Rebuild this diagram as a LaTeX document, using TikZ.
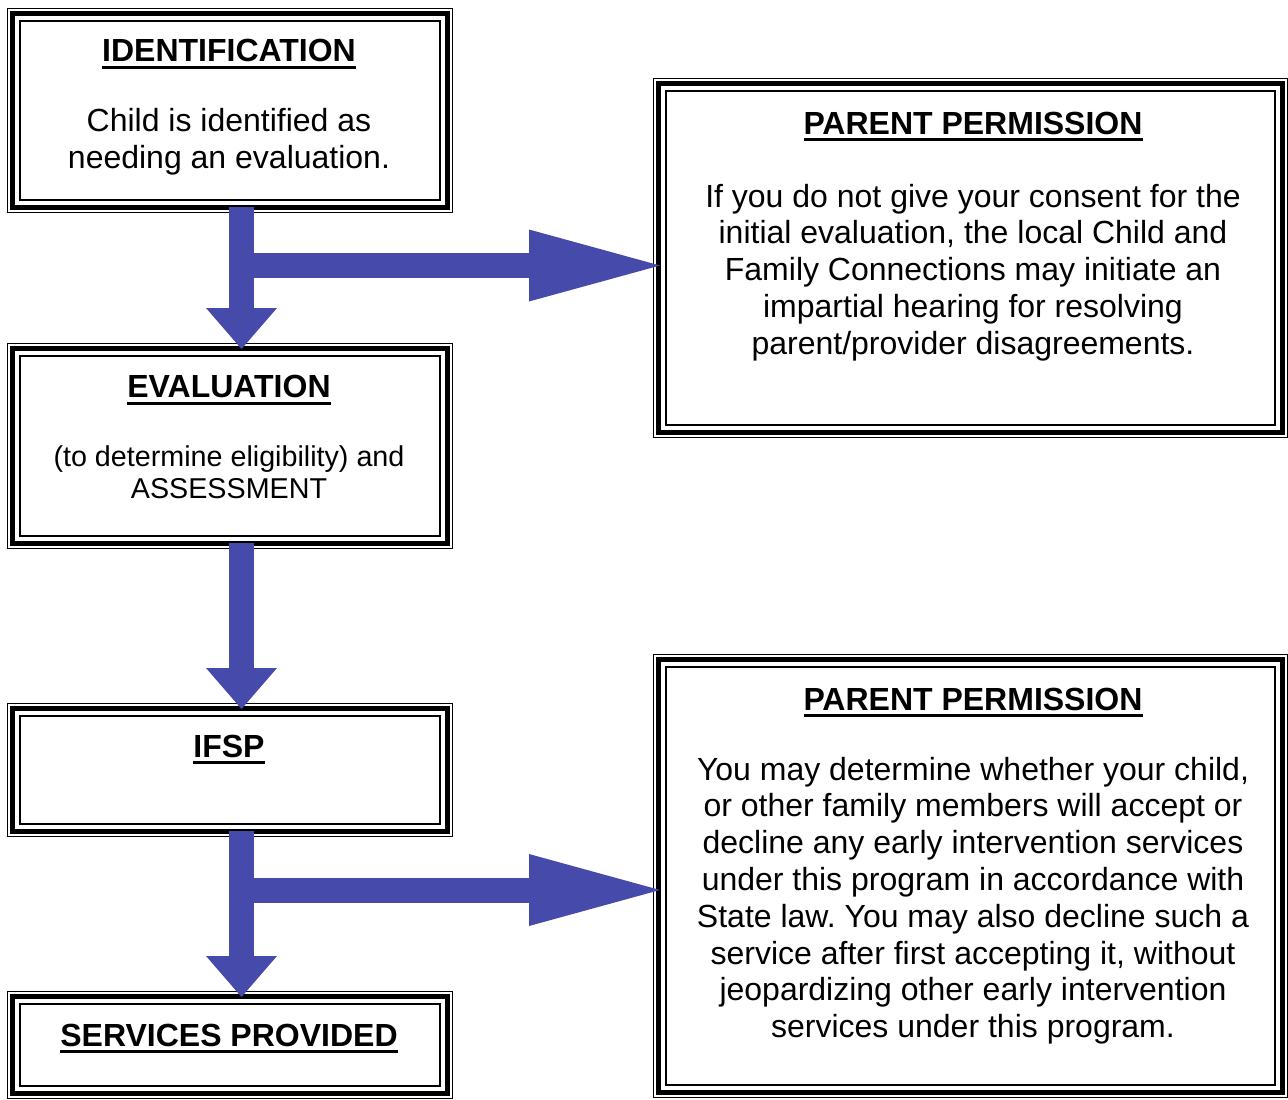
\documentclass[tikz,border=0pt]{standalone}
\usepackage{fontspec}
\setmainfont{Liberation Sans}
\frenchspacing
\usetikzlibrary{arrows.meta,positioning,calc}
\definecolor{kek}{RGB}{70,74,170}
\newcommand\alahuz[1]{\setbox0=\hbox{#1}\rlap{\rule[-7.3pt]{\wd0}{3.3pt}}\box0}
\tikzset{
  keret/.style={draw,line width=1.5pt,inner sep=0pt,outer sep=0pt,minimum width=445pt},
  cim/.style={font=\fontsize{32}{37}\selectfont\bfseries,inner sep=0pt,anchor=base},
  szov/.style={font=\fontsize{32}{36.8}\selectfont,align=center,inner sep=0pt,anchor=base},
  kisszov/.style={font=\fontsize{28.7}{32}\selectfont,align=center,inner sep=0pt,anchor=base},
  blokk/.style={draw=kek,line width=25pt,-{Triangle[length=41pt,width=71pt,line width=0pt]}},
  blokkh/.style={draw=kek,line width=25pt,-{Triangle[length=131pt,width=72pt,line width=0pt]}},
}

\begin{document}
\begin{tikzpicture}[x=1pt,y=-1pt]
  \useasboundingbox (0,0) rectangle (1288,1100);
  \node[keret,minimum height=204pt] (ident) at (230,110.5) {};
  \node[keret,minimum height=205pt] (eval) at (230,446) {};
  \node[keret,minimum height=133pt] (ifsp) at (230,770) {};
  \node[keret,minimum height=107pt] (serv) at (230,1045) {};
  \node[keret,minimum width=634pt,minimum height=359pt] (perm1) at (970.5,258) {};
  \node[keret,minimum width=634pt,minimum height=443pt] (perm2) at (970.5,876) {};
  \foreach \n in {ident,eval,ifsp,serv,perm1,perm2}{
    \draw[line width=5.5pt] ($(\n.north west)+(5,5)$) rectangle ($(\n.south east)+(-5,-5)$);
    \draw[line width=2.5pt] ($(\n.north west)+(12.5,12.5)$) rectangle ($(\n.south east)+(-12.5,-12.5)$);
  }

  \node[cim] (identc) at ($(ident.north)+(-1,53.2)$) {\alahuz{IDENTIFICATION}};
  \node[szov] (identt) at ($(ident.north)+(-1,160)$) {Child is identified as\\needing an evaluation.};
  \node[cim] (evalc) at ($(eval.north)+(-1,54)$) {\alahuz{EVALUATION}};
  \node[kisszov] (evalt) at ($(eval.north)+(-1,154.5)$) {(to determine eligibility) and\\ASSESSMENT};
  \node[cim] (ifspc) at ($(ifsp.north)+(-1,53.5)$) {\alahuz{IFSP}};
  \node[cim] (servc) at ($(serv.north)+(-1,54.5)$) {\alahuz{SERVICES PROVIDED}};
  \node[cim] (perm1c) at ($(perm1.north)+(2.5,55.5)$) {\alahuz{PARENT PERMISSION}};
  \node[szov] (perm1t) at ($(perm1.north)+(2.5,275.7)$) {If you do not give your consent for the\\initial evaluation, the local Child and\\Family Connections may initiate an\\impartial hearing for resolving\\parent/provider disagreements.};
  \node[cim] (perm2c) at ($(perm2.north)+(2.5,55.5)$) {\alahuz{PARENT PERMISSION}};
  \node[szov] (perm2t) at ($(perm2.north)+(2.5,383.1)$) {You may determine whether your child,\\or other family members will accept or\\decline any early intervention services\\under this program in accordance with\\State law. You may also decline such a\\service after first accepting it, without\\jeopardizing other early intervention\\services under this program.};

  \coordinate (a1) at ($(ident.south)+(11.5,-5.5)$); \coordinate (b1) at ($(eval.north)+(11.5,5.5)$);
  \coordinate (a2) at ($(eval.south)+(11.5,-5.5)$); \coordinate (b2) at ($(ifsp.north)+(11.5,5.5)$);
  \coordinate (a3) at ($(ifsp.south)+(11.5,-5.5)$); \coordinate (b3) at ($(serv.north)+(11.5,5.5)$);
  \coordinate (c1) at ($(perm1.west)+(6.5,7.5)$); \coordinate (c2) at ($(perm2.west)+(6.5,14)$);
  \draw[blokkh] (a1 |- c1) -- (c1);
  \draw[blokkh] (a3 |- c2) -- (c2);
  \draw[blokk] (a1) -- (b1);
  \draw[blokk] (a2) -- (b2);
  \draw[blokk] (a3) -- (b3);
\end{tikzpicture}
\end{document}
